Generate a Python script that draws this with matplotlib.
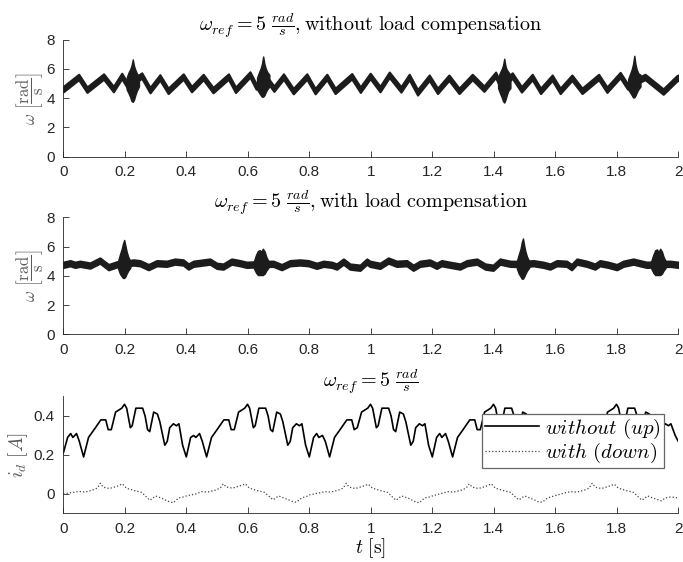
import numpy as np
import matplotlib
matplotlib.use("Agg")
import matplotlib.pyplot as plt

# ===================== DATA =====================

# speed, without load compensation (centre of the thick band)
t_w_nocomp = [0.000, 0.050, 0.077, 0.131, 0.163, 0.190, 0.212, 0.226, 0.255, 0.282,
              0.314, 0.341, 0.390, 0.417, 0.455, 0.487, 0.537, 0.560, 0.607, 0.627,
              0.655, 0.685, 0.716, 0.748, 0.792, 0.819, 0.857, 0.884, 0.938, 0.966,
              0.998, 1.030, 1.060, 1.098, 1.125, 1.152, 1.190, 1.217, 1.254, 1.287,
              1.330, 1.368, 1.406, 1.420, 1.435, 1.460, 1.490, 1.525, 1.552, 1.590,
              1.616, 1.654, 1.687, 1.741, 1.768, 1.811, 1.835, 1.857, 1.892, 1.951,
              1.995, 2.000]
w_nocomp = [4.62, 5.45, 4.58, 5.48, 4.62, 5.52, 4.75, 5.10, 5.55, 4.55,
            5.42, 4.50, 5.48, 4.62, 5.45, 4.55, 5.48, 4.57, 5.62, 4.80,
            5.50, 4.65, 5.48, 4.48, 5.48, 4.48, 5.45, 4.50, 5.50, 4.58,
            5.52, 4.62, 5.60, 4.60, 5.45, 4.40, 5.40, 4.50, 5.40, 4.50,
            5.45, 4.65, 5.60, 4.95, 5.00, 5.55, 4.60, 5.45, 4.50, 5.40,
            4.50, 5.40, 4.50, 5.45, 4.58, 5.58, 4.80, 5.10, 5.45, 4.45,
            5.35, 5.40]

# speed, with load compensation
t_w_comp = [0.000, 0.022, 0.038, 0.054, 0.087, 0.119, 0.147, 0.174, 0.197, 0.228,
            0.249, 0.277, 0.304, 0.336, 0.363, 0.390, 0.407, 0.423, 0.455, 0.477,
            0.499, 0.520, 0.547, 0.575, 0.596, 0.645, 0.683, 0.710, 0.737, 0.770,
            0.797, 0.824, 0.846, 0.873, 0.889, 0.911, 0.932, 0.965, 0.987, 0.997,
            1.030, 1.057, 1.084, 1.117, 1.138, 1.160, 1.192, 1.214, 1.230, 1.258,
            1.290, 1.312, 1.345, 1.372, 1.398, 1.420, 1.453, 1.497, 1.529, 1.561,
            1.583, 1.605, 1.637, 1.653, 1.670, 1.702, 1.729, 1.745, 1.772, 1.800,
            1.821, 1.854, 1.875, 1.897, 1.941, 1.973, 2.000]
w_comp = [4.75, 4.86, 4.75, 4.82, 4.70, 5.04, 4.59, 4.78, 4.80, 4.91,
          4.86, 4.59, 4.86, 4.82, 4.97, 4.91, 4.63, 4.82, 4.91, 4.97,
          4.68, 4.63, 4.97, 4.86, 4.75, 4.80, 4.82, 4.59, 4.86, 4.91,
          4.86, 4.68, 4.82, 4.75, 4.63, 4.97, 4.63, 4.55, 4.97, 4.82,
          4.68, 5.04, 4.82, 4.86, 4.55, 4.82, 4.91, 4.68, 4.86, 4.75,
          4.63, 4.86, 4.97, 4.63, 4.55, 4.97, 4.82, 4.80, 4.86, 4.75,
          4.63, 4.86, 4.82, 4.59, 4.97, 4.82, 4.63, 4.86, 4.75, 4.59,
          4.82, 4.97, 4.86, 4.75, 4.80, 4.82, 4.75]

# oscillation bursts: time, upper and lower envelope
burst_t_nocomp = [
    [0.206, 0.212, 0.218, 0.222, 0.226, 0.230, 0.234, 0.239, 0.246],
    [0.630, 0.636, 0.642, 0.646, 0.650, 0.654, 0.658, 0.663, 0.670],
    [1.414, 1.420, 1.426, 1.430, 1.434, 1.438, 1.442, 1.447, 1.454],
    [1.837, 1.843, 1.849, 1.853, 1.857, 1.861, 1.865, 1.870, 1.877],
]
burst_hi_nocomp = [
    [5.40, 5.75, 6.00, 6.25, 6.65, 6.20, 5.95, 5.70, 5.50],
    [5.40, 5.75, 6.05, 6.35, 6.85, 6.35, 6.05, 5.80, 5.60],
    [5.40, 5.75, 6.00, 6.25, 6.70, 6.20, 5.95, 5.80, 5.60],
    [5.30, 5.65, 6.00, 6.35, 6.90, 6.30, 5.95, 5.70, 5.60],
]
burst_lo_nocomp = [
    [4.60, 4.35, 4.05, 3.80, 3.75, 3.90, 4.20, 4.50, 4.80],
    [4.60, 4.40, 4.20, 4.10, 4.10, 4.20, 4.40, 4.60, 4.80],
    [4.70, 4.35, 4.05, 3.80, 3.70, 3.90, 4.20, 4.50, 4.70],
    [4.60, 4.40, 4.20, 4.05, 4.05, 4.20, 4.40, 4.60, 4.80],
]

burst_t_comp = [
    [0.178, 0.184, 0.190, 0.194, 0.198, 0.202, 0.206, 0.211, 0.218],
    [0.620, 0.627, 0.633, 0.639, 0.644, 0.649, 0.655, 0.660, 0.667],
    [1.475, 1.481, 1.487, 1.491, 1.495, 1.499, 1.503, 1.508, 1.515],
    [1.912, 1.919, 1.925, 1.931, 1.936, 1.941, 1.947, 1.952, 1.959],
]
burst_hi_comp = [
    [5.00, 5.45, 5.85, 6.20, 6.45, 6.05, 5.65, 5.30, 5.00],
    [5.00, 5.45, 5.70, 5.75, 5.65, 5.85, 5.65, 5.30, 5.00],
    [5.00, 5.45, 5.85, 6.30, 6.55, 6.05, 5.65, 5.30, 5.00],
    [5.00, 5.45, 5.75, 5.80, 5.60, 5.85, 5.65, 5.30, 5.00],
]
burst_lo_comp = [
    [4.50, 4.15, 3.95, 3.85, 3.85, 3.95, 4.15, 4.35, 4.55],
    [4.50, 4.20, 4.05, 4.05, 4.05, 4.05, 4.15, 4.35, 4.55],
    [4.50, 4.15, 3.95, 3.80, 3.80, 3.95, 4.15, 4.35, 4.55],
    [4.50, 4.20, 4.05, 4.05, 4.05, 4.05, 4.15, 4.35, 4.55],
]

# i_d current, without load compensation
t_id = [0.000, 0.014, 0.024, 0.031, 0.043, 0.052, 0.066, 0.082, 0.100, 0.122,
        0.138, 0.146, 0.156, 0.170, 0.190, 0.199, 0.206, 0.218, 0.224, 0.236,
        0.258, 0.266, 0.274, 0.281, 0.294, 0.306, 0.314, 0.330, 0.338, 0.346,
        0.358, 0.368, 0.376, 0.388,
        0.400, 0.414, 0.424, 0.431, 0.443, 0.452, 0.466, 0.482, 0.500, 0.522,
        0.538, 0.546, 0.556, 0.570, 0.590, 0.599, 0.606, 0.618, 0.624, 0.636,
        0.658, 0.666, 0.674, 0.681, 0.694, 0.706, 0.714, 0.730, 0.738, 0.746,
        0.758, 0.768, 0.776, 0.788,
        0.800, 0.814, 0.824, 0.831, 0.843, 0.852, 0.866, 0.882, 0.900, 0.922,
        0.938, 0.946, 0.956, 0.970, 0.990, 0.999, 1.006, 1.018, 1.024, 1.036,
        1.058, 1.066, 1.074, 1.081, 1.094, 1.106, 1.114, 1.130, 1.138, 1.146,
        1.158, 1.168, 1.176, 1.188,
        1.200, 1.214, 1.224, 1.231, 1.243, 1.252, 1.266, 1.282, 1.300, 1.322,
        1.338, 1.346, 1.356, 1.370, 1.390, 1.399, 1.406, 1.418, 1.424, 1.436,
        1.458, 1.466, 1.474, 1.481, 1.494, 1.506, 1.514, 1.530, 1.538, 1.546,
        1.558, 1.568, 1.576, 1.588,
        1.600, 1.614, 1.624, 1.631, 1.643, 1.652, 1.666, 1.682, 1.700, 1.722,
        1.738, 1.746, 1.756, 1.770, 1.790, 1.799, 1.806, 1.818, 1.824, 1.836,
        1.858, 1.866, 1.874, 1.881, 1.894, 1.906, 1.914, 1.930, 1.938, 1.946,
        1.958, 1.968, 1.976, 1.990, 2.000]
id_without = [0.21, 0.29, 0.31, 0.29, 0.31, 0.27, 0.19, 0.29, 0.33, 0.38,
              0.38, 0.33, 0.33, 0.42, 0.44, 0.46, 0.44, 0.34, 0.35, 0.44,
              0.44, 0.40, 0.33, 0.32, 0.42, 0.41, 0.37, 0.25, 0.27, 0.34,
              0.36, 0.35, 0.36, 0.25,
              0.19, 0.29, 0.30, 0.29, 0.31, 0.27, 0.19, 0.29, 0.33, 0.38,
              0.38, 0.33, 0.33, 0.42, 0.44, 0.46, 0.44, 0.34, 0.35, 0.44,
              0.44, 0.40, 0.33, 0.32, 0.42, 0.41, 0.37, 0.25, 0.27, 0.34,
              0.36, 0.35, 0.36, 0.25,
              0.19, 0.29, 0.31, 0.29, 0.30, 0.27, 0.19, 0.29, 0.33, 0.38,
              0.38, 0.33, 0.34, 0.42, 0.44, 0.46, 0.44, 0.34, 0.35, 0.44,
              0.44, 0.40, 0.33, 0.32, 0.42, 0.41, 0.37, 0.25, 0.27, 0.34,
              0.36, 0.35, 0.36, 0.25,
              0.19, 0.29, 0.31, 0.29, 0.31, 0.27, 0.19, 0.29, 0.33, 0.38,
              0.38, 0.33, 0.33, 0.42, 0.44, 0.46, 0.44, 0.34, 0.35, 0.44,
              0.44, 0.40, 0.33, 0.32, 0.42, 0.41, 0.37, 0.25, 0.27, 0.34,
              0.36, 0.35, 0.36, 0.25,
              0.19, 0.29, 0.31, 0.29, 0.31, 0.27, 0.19, 0.29, 0.33, 0.38,
              0.38, 0.33, 0.33, 0.42, 0.44, 0.46, 0.44, 0.34, 0.35, 0.44,
              0.44, 0.40, 0.33, 0.32, 0.42, 0.41, 0.37, 0.25, 0.27, 0.34,
              0.36, 0.35, 0.36, 0.30, 0.27]

# i_d current, with load compensation
t_id_comp = [0.000, 0.030, 0.050, 0.070, 0.095, 0.110, 0.120, 0.130, 0.150, 0.175,
             0.192, 0.205, 0.230, 0.255, 0.272, 0.282, 0.300, 0.320, 0.345, 0.358,
             0.375, 0.392,
             0.400, 0.430, 0.450, 0.470, 0.495, 0.510, 0.520, 0.530, 0.550, 0.575,
             0.592, 0.605, 0.630, 0.655, 0.672, 0.682, 0.700, 0.720, 0.745, 0.758,
             0.775, 0.792,
             0.800, 0.830, 0.850, 0.870, 0.895, 0.910, 0.920, 0.930, 0.950, 0.975,
             0.992, 1.005, 1.030, 1.055, 1.072, 1.082, 1.100, 1.120, 1.145, 1.158,
             1.175, 1.192,
             1.200, 1.230, 1.250, 1.270, 1.295, 1.310, 1.320, 1.330, 1.350, 1.375,
             1.392, 1.405, 1.430, 1.455, 1.472, 1.482, 1.500, 1.520, 1.545, 1.558,
             1.575, 1.592,
             1.600, 1.630, 1.650, 1.670, 1.695, 1.710, 1.720, 1.730, 1.750, 1.775,
             1.792, 1.805, 1.830, 1.855, 1.872, 1.882, 1.900, 1.920, 1.945, 1.958,
             1.975, 2.000]
id_with = [0.000, 0.008, 0.013, 0.010, 0.020, 0.030, 0.055, 0.035, 0.028, 0.040,
           0.052, 0.030, 0.018, 0.008, -0.018, -0.032, -0.010, -0.022, -0.040, -0.045,
           -0.020, -0.015,
           -0.010, 0.000, 0.012, 0.010, 0.020, 0.030, 0.052, 0.036, 0.030, 0.042,
           0.052, 0.030, 0.018, 0.008, -0.016, -0.030, -0.010, -0.022, -0.038, -0.042,
           -0.020, -0.012,
           -0.005, 0.005, 0.012, 0.010, 0.020, 0.030, 0.055, 0.035, 0.028, 0.040,
           0.050, 0.030, 0.018, 0.008, -0.018, -0.032, -0.010, -0.020, -0.040, -0.045,
           -0.020, -0.015,
           -0.010, 0.003, 0.012, 0.010, 0.020, 0.030, 0.052, 0.035, 0.028, 0.040,
           0.052, 0.030, 0.018, 0.008, -0.018, -0.030, -0.010, -0.022, -0.040, -0.042,
           -0.020, -0.012,
           -0.008, 0.005, 0.012, 0.010, 0.020, 0.030, 0.055, 0.035, 0.028, 0.040,
           0.050, 0.030, 0.018, 0.008, -0.018, -0.032, -0.010, -0.022, -0.035, -0.020,
           -0.015, -0.020]

x_ticks = [0, 0.2, 0.4, 0.6, 0.8, 1, 1.2, 1.4, 1.6, 1.8, 2]
x_ticklabels = ["0", "0.2", "0.4", "0.6", "0.8", "1", "1.2", "1.4", "1.6", "1.8", "2"]
w_ticks = [0, 2, 4, 6, 8]
id_ticks = [0, 0.2, 0.4]
id_ticklabels = ["0", "0.2", "0.4"]

# ===================== STYLE =====================

plt.rcParams["mathtext.fontset"] = "cm"
plt.rcParams["font.family"] = ["Liberation Sans", "DejaVu Sans"]

AX_COLOR = (0.15, 0.15, 0.15)
LABEL_COLOR = (0.35, 0.35, 0.35)
BAND = 0.18          # half thickness of the noisy speed band
LEFT, WIDTH, HEIGHT = 0.0927, 0.9004, 0.2082


def _style(ax, yticks, ylabels=None):
    ax.set_xlim(0, 2)
    ax.set_xticks(x_ticks)
    ax.set_xticklabels(x_ticklabels)
    ax.set_yticks(yticks)
    if ylabels is not None:
        ax.set_yticklabels(ylabels)
    for s in ("top", "right"):
        ax.spines[s].set_visible(False)
    for s in ("left", "bottom"):
        ax.spines[s].set_color(AX_COLOR)
        ax.spines[s].set_linewidth(0.6)
    ax.tick_params(direction="in", length=4, width=0.6, colors=AX_COLOR,
                   labelsize=11, pad=6)


def _band(ax, t, w, bt, bhi, blo):
    t = np.asarray(t)
    w = np.asarray(w)
    ax.fill_between(t, w - BAND, w + BAND, color="#1c1c1c", lw=1.6,
                    joinstyle="round")
    for tt, hi, lo in zip(bt, bhi, blo):
        ax.fill_between(tt, lo, hi, color="#1c1c1c", lw=1.0)


fig = plt.figure(figsize=(6.83, 5.62), dpi=100)

title_kw = dict(fontsize=14.5, pad=5)
ylab_w = r"$\omega\ \left[\dfrac{\mathrm{rad}}{\mathrm{s}}\right]$"

# ---------- top ----------
ax1 = fig.add_axes([LEFT, 0.7212, WIDTH, HEIGHT])
_band(ax1, t_w_nocomp, w_nocomp, burst_t_nocomp, burst_hi_nocomp, burst_lo_nocomp)
ax1.set_ylim(0, 8)
_style(ax1, w_ticks)
ax1.set_title(r"$\omega_{ref} = 5\ \frac{rad}{s}\mathrm{, without\ load\ compensation}$",
              **title_kw)
ax1.set_ylabel(ylab_w, fontsize=12, color=LABEL_COLOR, labelpad=1)

# ---------- middle ----------
ax2 = fig.add_axes([LEFT, 0.4052, WIDTH, HEIGHT])
_band(ax2, t_w_comp, w_comp, burst_t_comp, burst_hi_comp, burst_lo_comp)
ax2.set_ylim(0, 8)
_style(ax2, w_ticks)
ax2.set_title(r"$\omega_{ref} = 5\ \frac{rad}{s}\mathrm{, with\ load\ compensation}$",
              **title_kw)
ax2.set_ylabel(ylab_w, fontsize=12, color=LABEL_COLOR, labelpad=1)

# ---------- bottom ----------
ax3 = fig.add_axes([LEFT, 0.0863, WIDTH, HEIGHT])
ax3.plot(t_id, id_without, color="black", lw=1.2, label=r"$without\ (up)$")
ax3.plot(t_id_comp, id_with, color="#444444", lw=0.9, ls=":", label=r"$with\ (down)$")
ax3.set_ylim(-0.1, 0.5)
_style(ax3, id_ticks, id_ticklabels)
ax3.set_title(r"$\omega_{ref} = 5\ \frac{rad}{s}$", **title_kw)
ax3.set_ylabel(r"$i_d\ [A]$", fontsize=14, color=LABEL_COLOR, labelpad=3)
ax3.set_xlabel(r"$t\ [\mathrm{s}]$", fontsize=14, labelpad=0.5)

leg = ax3.legend(loc="upper right", bbox_to_anchor=(0.976, 0.85), fontsize=15,
                 frameon=True, fancybox=False, borderaxespad=0, handlelength=2.6,
                 handletextpad=0.3, borderpad=0.12, labelspacing=0.02)
leg.get_frame().set_edgecolor((0.4, 0.4, 0.4))
leg.get_frame().set_linewidth(0.9)
leg.get_frame().set_alpha(1)

fig.savefig("out.png", dpi=100)
